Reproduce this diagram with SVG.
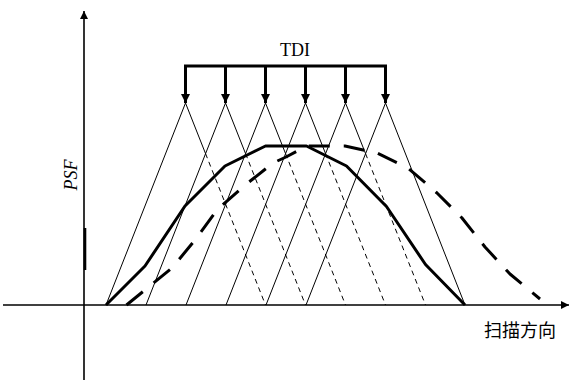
<svg xmlns="http://www.w3.org/2000/svg" width="572" height="385" viewBox="0 0 572 385">
<defs>
<marker id="ah" viewBox="0 0 10 10" refX="10" refY="5" markerUnits="userSpaceOnUse" markerWidth="11" markerHeight="9" orient="auto">
<path d="M0,0 L10,5 L0,10 z" fill="#000"/>
</marker>
<marker id="ax" viewBox="0 0 10 10" refX="10" refY="5" markerUnits="userSpaceOnUse" markerWidth="13" markerHeight="8" orient="auto">
<path d="M0,0 L10,5 L0,10 z" fill="#000"/>
</marker>
</defs>
<style>
.axis{stroke:#000;stroke-width:1.6;fill:none}
.thin{stroke:#000;stroke-width:1;fill:none}
.thind{stroke:#000;stroke-width:1;fill:none;stroke-dasharray:5 4}
.curve{stroke:#000;stroke-width:3;fill:none;stroke-linejoin:round}
.curved{stroke:#000;stroke-width:3;fill:none;stroke-dasharray:21 14;stroke-linejoin:round}
.bus{stroke:#000;stroke-width:3;fill:none}
.lbl{font-family:"Liberation Serif","Times New Roman",serif;fill:#000}
</style>
<g id="axes">
<line class="axis" x1="84" y1="380" x2="84" y2="11" marker-end="url(#ax)"/>
<line class="axis" x1="3" y1="305" x2="569" y2="305" marker-end="url(#ax)"/>
<line x1="85" y1="228" x2="85" y2="270" stroke="#000" stroke-width="2.6"/>
<text class="lbl" x="0" y="0" font-size="18" font-style="italic" text-anchor="middle" transform="translate(77,175) rotate(-90)">PSF</text>
<text x="520" y="337" font-family="'Noto Sans CJK SC',sans-serif" font-size="18" text-anchor="middle" fill="#000">扫描方向</text>
</g>
<g id="tdi">
<text class="lbl" x="295" y="56" font-size="18" text-anchor="middle">TDI</text>
<line class="bus" x1="184" y1="66" x2="387" y2="66"/>
<line class="bus" x1="185.5" y1="65" x2="185.5" y2="103" marker-end="url(#ah)"/>
<line class="bus" x1="225.5" y1="65" x2="225.5" y2="103" marker-end="url(#ah)"/>
<line class="bus" x1="265.5" y1="65" x2="265.5" y2="103" marker-end="url(#ah)"/>
<line class="bus" x1="305.5" y1="65" x2="305.5" y2="103" marker-end="url(#ah)"/>
<line class="bus" x1="345.5" y1="65" x2="345.5" y2="103" marker-end="url(#ah)"/>
<line class="bus" x1="385.5" y1="65" x2="385.5" y2="103" marker-end="url(#ah)"/>
</g>
<g id="triangles">
<path class="thin" d="M106,305 L185.5,103 L205.5,153.5 M146,305 L225.5,103 L245.5,153.5 M186,305 L265.5,103 L285.5,153.5 M226,305 L305.5,103 L325.5,153.5 M266,305 L345.5,103 L365.5,153.5 M306,305 L385.5,103 L465,305"/>
<path class="thind" d="M205.5,153.5 L265.5,305 M245.5,153.5 L305.5,305 M285.5,153.5 L345.5,305 M325.5,153.5 L385.5,305 M365.5,153.5 L425.5,305"/>
</g>
<g id="curves">
<polyline class="curve" points="106,305 145,266 185,206 225,166 265.5,146 306.5,146 346.5,166 386.5,206.5 425.5,264.5 465,305"/>
<polyline class="curved" points="126.5,305 172,268 195,240 217,210 244,186 273,163 286,157 307,146 345,146 377,153 408,168 437,193 462,218 485,247 510,274 540,299"/>
</g>
</svg>
